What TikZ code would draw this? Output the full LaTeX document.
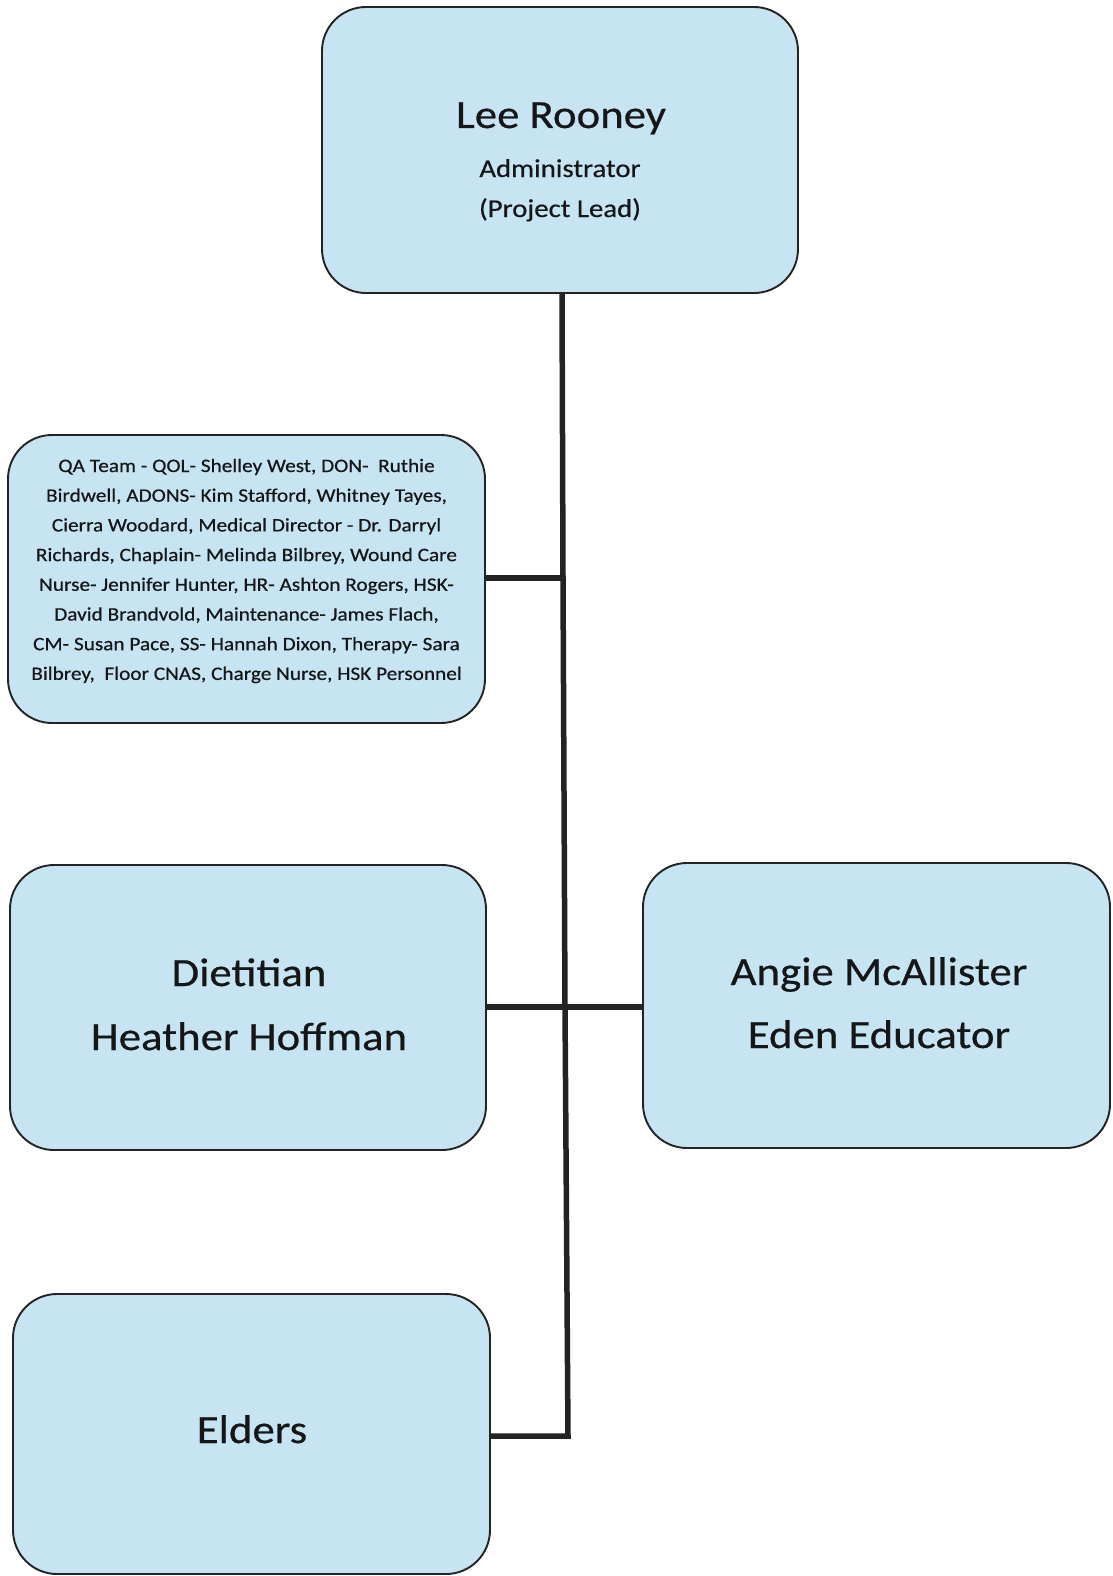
\documentclass[tikz,border=0pt]{standalone}
\usepackage{fontspec}
\setmainfont{Carlito}[FakeStretch=1.12,FakeBold=0.5]
\definecolor{boxfill}{RGB}{198,228,241}
\definecolor{boxline}{RGB}{35,35,35}
\definecolor{txt}{RGB}{22,22,22}
\begin{document}
\begin{tikzpicture}[x=1pt,y=-1pt,
  box/.style={draw=boxline, line width=1.9pt, fill=boxfill, rounded corners=44pt, inner sep=0pt, rectangle},
  conn/.style={draw=boxline, line width=5.5pt, line join=miter},
  big/.style={font=\fontsize{40}{48}\selectfont, inner sep=0pt, anchor=base, text=txt},
  mid/.style={font=\fontsize{25.7}{31}\selectfont, inner sep=0pt, anchor=base, text=txt},
  small/.style={font=\fontsize{19}{23}\selectfont, inner sep=0pt, anchor=base, text=txt}]
\useasboundingbox (0,0) rectangle (1112,1576);

% boxes
\node[box, minimum width=476pt, minimum height=286pt] (top) at (560,150) {};
\node[box, minimum width=477pt, minimum height=288pt] (qa) at (246.5,579) {};
\node[box, minimum width=476pt, minimum height=285pt] (diet) at (248,1007.5) {};
\node[box, minimum width=467pt, minimum height=285pt] (angie) at (876.5,1005.5) {};
\node[box, minimum width=477pt, minimum height=280pt] (elders) at (251.5,1434) {};

% connectors
\coordinate (sq) at (563,578);
\coordinate (sd) at (565,1007);
\coordinate (se) at (568,1436);
\draw[conn] ([xshift=2pt]top.south) -- (sq) -- (sd) -- (se) -- (elders.east |- se);
\draw[conn] (qa.east |- sq) -- (sq);
\draw[conn] (diet.east |- sd) -- (angie.west |- sd);

% texts
\node[big] (t1) at (561,128) {Lee Rooney};
\node[mid] (t2) at (560,177) {Administrator};
\node[mid] (t3) at (560,217) {(Project Lead)};

\foreach \t [count=\i] in {
  {QA Team - QOL- Shelley West, DON-~ Ruthie},
  {Birdwell, ADONS- Kim Stafford, Whitney Tayes,},
  {Cierra Woodard, Medical Director - Dr. Darryl},
  {Richards, Chaplain- Melinda Bilbrey, Wound Care},
  {Nurse- Jennifer Hunter, HR- Ashton Rogers, HSK-},
  {David Brandvold, Maintenance- James Flach,},
  {CM- Susan Pace, SS- Hannah Dixon, Therapy- Sara},
  {Bilbrey,~ Floor CNAS, Charge Nurse, HSK Personnel}}
  \node[small] (q\i) at (246.5,{472+29.7*(\i-1)}) {\t};

\node[big] (d1) at (249,986) {Dietitian};
\node[big] (d2) at (249,1050) {Heather Hoffman};
\node[big] (a1) at (879,985) {Angie McAllister};
\node[big] (a2) at (879,1048) {Eden Educator};
\node[big] (e1) at (252,1443) {Elders};
\end{tikzpicture}
\end{document}
